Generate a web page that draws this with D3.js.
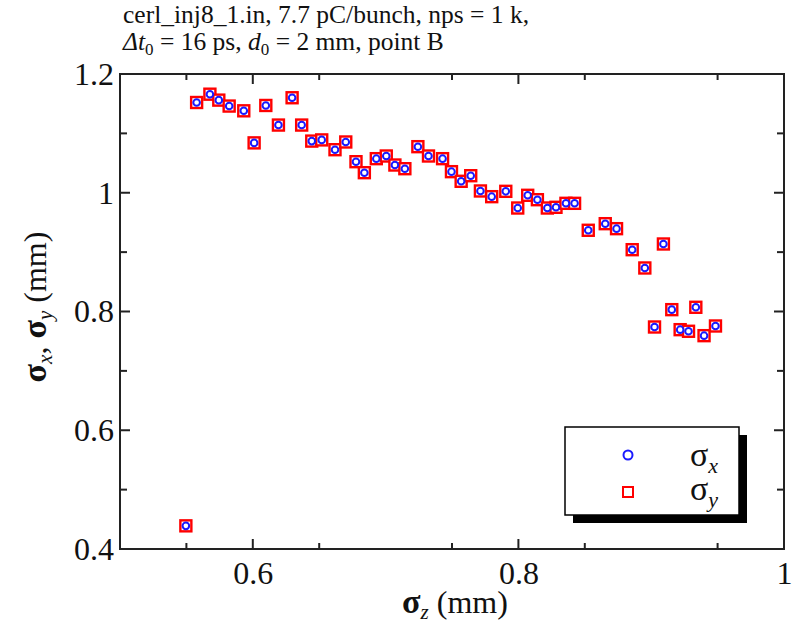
<!DOCTYPE html>
<html><head><meta charset="utf-8">
<script src="https://cdn.jsdelivr.net/npm/d3@7"></script>
<style>
html,body{margin:0;padding:0;background:#fff;}
svg{display:block;font-family:"Liberation Serif","Times New Roman",serif;}
</style></head>
<body><svg id="chart" width="799" height="627"></svg>
<script>
const titleLine1 = "cerl_inj8_1.in, 7.7 pC/bunch, nps = 1 k,";
const sigmaZ = [0.5496,0.5577,0.5677,0.5744,0.5822,0.5932,0.6010,0.6098,0.6193,0.6296,0.6368,0.6444,0.6519,0.6619,0.6700,
  0.6777,0.6840,0.6930,0.7005,0.7070,0.7145,0.7243,0.7323,0.7429,0.7496,0.7569,0.7641,0.7714,0.7799,0.7905,0.7995,0.8070,
  0.8143,0.8218,0.8283,0.8358,0.8423,0.8526,0.8654,0.8739,0.8857,0.8952,0.9092,0.9155,0.9025,0.9218,0.9281,0.9336,0.9398,0.9484];
const sigmaX = [0.439,1.152,1.166,1.156,1.146,1.138,1.084,1.147,1.114,1.160,1.114,1.087,1.089,1.0725,1.0855,
  1.0523,1.0338,1.0574,1.0619,1.0467,1.0405,1.0776,1.0619,1.0574,1.0355,1.0193,1.0287,1.003,0.9934,1.0024,0.9743,0.9957,
  0.9883,0.9743,0.9755,0.9822,0.9822,0.9368,0.9479,0.9395,0.9041,0.8733,0.9137,0.8031,0.7739,0.7694,0.7667,0.8071,0.7593,0.7756];
const sigmaY = [0.439,1.152,1.166,1.156,1.146,1.138,1.084,1.147,1.114,1.160,1.114,1.087,1.089,1.0725,1.0855,
  1.0523,1.0338,1.0574,1.0619,1.0467,1.0405,1.0776,1.0619,1.0574,1.0355,1.0193,1.0287,1.003,0.9934,1.0024,0.9743,0.9957,
  0.9883,0.9743,0.9755,0.9822,0.9822,0.9368,0.9479,0.9395,0.9041,0.8733,0.9137,0.8031,0.7739,0.7694,0.7667,0.8071,0.7593,0.7756];
const xTicks = [0.6, 0.8, 1];
const yTicks = [0.4, 0.6, 0.8, 1, 1.2];
const xTickLabels = ["0.6","0.8","1"];
const yTickLabels = ["0.4","0.6","0.8","1","1.2"];

const svg = d3.select("#chart");
const L = 120, R = 784, T = 74, B = 549;
const x = d3.scaleLinear().domain([0.5, 1.0]).range([L, R]);
const y = d3.scaleLinear().domain([0.4, 1.2]).range([B, T]);
const axisColor = "#222";

// frame
svg.append("rect").attr("x", L).attr("y", T).attr("width", R - L).attr("height", B - T)
  .attr("fill", "none").attr("stroke", axisColor).attr("stroke-width", 2);

// ticks
const xMinor = d3.range(0.55, 1.0, 0.1);
const yMinor = d3.range(0.5, 1.2, 0.2);
function addAxisTicks(ax, vals, len) {
  const g = svg.append("g").attr("stroke", axisColor).attr("stroke-width", 2);
  vals.forEach(v => {
    if (ax === "x") {
      g.append("line").attr("x1", x(v)).attr("x2", x(v)).attr("y1", B).attr("y2", B - len);
      g.append("line").attr("x1", x(v)).attr("x2", x(v)).attr("y1", T).attr("y2", T + len);
    } else {
      g.append("line").attr("y1", y(v)).attr("y2", y(v)).attr("x1", L).attr("x2", L + len);
      g.append("line").attr("y1", y(v)).attr("y2", y(v)).attr("x1", R).attr("x2", R - len);
    }
  });
}
addAxisTicks("x", xTicks.filter(v => v < 1), 10);
addAxisTicks("x", xMinor, 6);
addAxisTicks("y", yTicks.filter(v => v > 0.4 && v < 1.2), 10);
addAxisTicks("y", yMinor, 7);

// tick labels
const xAxis = d3.axisBottom(x).tickValues(xTicks).tickFormat((d, i) => xTickLabels[i]).tickSize(0).tickPadding(12);
const gx = svg.append("g").attr("transform", `translate(0,${B})`).call(xAxis);
gx.select(".domain").remove();
gx.selectAll("text").attr("font-family", "Liberation Serif").attr("font-size", 32).attr("fill", "#111");
const yAxis = d3.axisLeft(y).tickValues(yTicks).tickFormat((d, i) => yTickLabels[i]).tickSize(0).tickPadding(6);
const gy = svg.append("g").attr("transform", `translate(${L},0)`).call(yAxis);
gy.select(".domain").remove();
gy.selectAll("text").attr("font-family", "Liberation Serif").attr("font-size", 32).attr("fill", "#111");

// data points
const pts = sigmaZ.map((z, i) => ({z, sx: sigmaX[i], sy: sigmaY[i]}));
svg.append("g").selectAll("rect").data(pts).join("rect")
  .attr("x", d => x(d.z) - 5.5).attr("y", d => y(d.sy) - 5.5)
  .attr("width", 11).attr("height", 11)
  .attr("fill", "#fff").attr("stroke", "#ff0000").attr("stroke-width", 2.4);
svg.append("g").selectAll("circle").data(pts).join("circle")
  .attr("cx", d => x(d.z)).attr("cy", d => y(d.sx)).attr("r", 3.3)
  .attr("fill", "#fff").attr("stroke", "#1a1aff").attr("stroke-width", 2);

// title
const title = svg.append("text").attr("font-size", 25.5).attr("fill", "#111");
title.append("tspan").attr("x", 123).attr("y", 23).text(titleLine1);
const t2 = svg.append("text").attr("x", 123).attr("y", 50).attr("font-size", 25.5).attr("fill", "#111");
t2.append("tspan").attr("font-style", "italic").text("Δt");
t2.append("tspan").attr("font-size", 17).attr("dy", 5).text("0");
t2.append("tspan").attr("dy", -5).text(" = 16 ps, ");
t2.append("tspan").attr("font-style", "italic").text("d");
t2.append("tspan").attr("font-size", 17).attr("dy", 5).text("0");
t2.append("tspan").attr("dy", -5).text(" = 2 mm, point B");

// x label
const xl = svg.append("text").attr("x", 455).attr("y", 613).attr("text-anchor", "middle")
  .attr("font-size", 32).attr("fill", "#111");
xl.append("tspan").attr("font-weight", "bold").attr("font-size", 34).text("σ");
xl.append("tspan").attr("font-style", "italic").attr("font-size", 21).attr("dy", 6).text("z");
xl.append("tspan").attr("dy", -6).text(" (mm)");

// y label
const yl = svg.append("text").attr("transform", "translate(46,307) rotate(-90)").attr("text-anchor", "middle")
  .attr("font-size", 32).attr("fill", "#111");
yl.append("tspan").attr("font-weight", "bold").attr("font-size", 34).text("σ");
yl.append("tspan").attr("font-style", "italic").attr("font-size", 21).attr("dy", 6).text("x");
yl.append("tspan").attr("dy", -6).text(", ");
yl.append("tspan").attr("font-weight", "bold").attr("font-size", 34).text("σ");
yl.append("tspan").attr("font-style", "italic").attr("font-size", 21).attr("dy", 6).text("y");
yl.append("tspan").attr("dy", -6).text(" (mm)");

// legend
const lg = svg.append("g");
lg.append("rect").attr("x", 573).attr("y", 435).attr("width", 174).attr("height", 88).attr("fill", "#000");
lg.append("rect").attr("x", 565).attr("y", 427).attr("width", 174).attr("height", 88)
  .attr("fill", "#fff").attr("stroke", "#000").attr("stroke-width", 1.5);
lg.append("circle").attr("cx", 628).attr("cy", 455).attr("r", 4.5).attr("fill", "#fff")
  .attr("stroke", "#1a1aff").attr("stroke-width", 2);
lg.append("rect").attr("x", 623).attr("y", 487).attr("width", 10).attr("height", 10).attr("fill", "#fff")
  .attr("stroke", "#ff0000").attr("stroke-width", 2);
const lt1 = lg.append("text").attr("x", 690).attr("y", 466).attr("font-size", 34).attr("fill", "#111");
lt1.append("tspan").text("σ");
lt1.append("tspan").attr("font-style", "italic").attr("font-size", 22).attr("dy", 7).text("x");
const lt2 = lg.append("text").attr("x", 690).attr("y", 500).attr("font-size", 34).attr("fill", "#111");
lt2.append("tspan").text("σ");
lt2.append("tspan").attr("font-style", "italic").attr("font-size", 22).attr("dy", 7).text("y");
</script></body></html>
